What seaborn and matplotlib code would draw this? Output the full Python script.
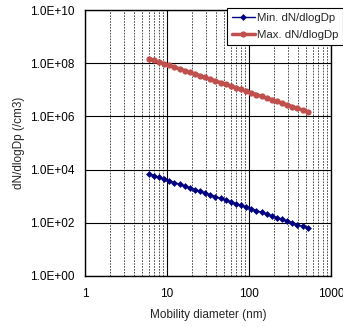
import numpy as np
import pandas as pd
import matplotlib
matplotlib.use("Agg")
import matplotlib.pyplot as plt
import seaborn as sns
from matplotlib.ticker import FixedLocator, FuncFormatter, LogLocator, NullFormatter

diameter_nm = [6.00, 6.93, 8.00, 9.24, 10.67, 12.32, 14.23, 16.43, 18.97, 21.91,
               25.30, 29.22, 33.74, 38.96, 44.99, 51.96, 60.0, 69.3, 80.0, 92.4,
               106.7, 123.2, 142.3, 164.3, 189.7, 219.1, 253.0, 292.2, 337.4,
               389.6, 449.9, 519.6]
min_dndlogdp = [7.00e3, 6.01e3, 5.17e3, 4.44e3, 3.81e3, 3.28e3, 2.82e3, 2.42e3,
                2.08e3, 1.79e3, 1.53e3, 1.32e3, 1.13e3, 9.73e2, 8.36e2, 7.18e2,
                6.17e2, 5.30e2, 4.55e2, 3.91e2, 3.36e2, 2.89e2, 2.48e2, 2.13e2,
                1.83e2, 1.57e2, 1.35e2, 1.16e2, 99.8, 85.7, 73.6, 63.3]
max_dndlogdp = [1.50e8, 1.29e8, 1.12e8, 9.62e7, 8.29e7, 7.15e7, 6.16e7, 5.31e7,
                4.58e7, 3.95e7, 3.40e7, 2.93e7, 2.53e7, 2.18e7, 1.88e7, 1.62e7,
                1.40e7, 1.20e7, 1.04e7, 8.94e6, 7.71e6, 6.64e6, 5.73e6, 4.94e6,
                4.26e6, 3.67e6, 3.16e6, 2.73e6, 2.35e6, 2.03e6, 1.75e6, 1.51e6]
series_names = ["Min. dN/dlogDp", "Max. dN/dlogDp"]
x_ticks = [1, 10, 100, 1000]
y_ticks = [1e0, 1e2, 1e4, 1e6, 1e8, 1e10]

sns.set_style("white")
plt.rcParams["font.family"] = ["Liberation Sans", "DejaVu Sans"]

fig = plt.figure(figsize=(3.43, 3.27), dpi=100)
ax = fig.add_axes([0.248, 0.156, 0.717, 0.813])

df_min = pd.DataFrame({"Dp": diameter_nm, "v": min_dndlogdp})
df_max = pd.DataFrame({"Dp": diameter_nm, "v": max_dndlogdp})

ax.set_xscale("log")
ax.set_yscale("log")

sns.lineplot(data=df_min, x="Dp", y="v", ax=ax, color="#000080", lw=1.0,
             marker="D", markersize=3.5, markeredgewidth=0, label=series_names[0])
sns.lineplot(data=df_max, x="Dp", y="v", ax=ax, color="#C0504D", lw=2.5,
             marker="o", markersize=4.5, markeredgewidth=0, label=series_names[1])

ax.set_xlim(1, 1000)
ax.set_ylim(1, 1e10)
ax.xaxis.set_major_locator(FixedLocator(x_ticks))
ax.xaxis.set_major_formatter(FuncFormatter(lambda v, p: f"{v:g}"))
ax.xaxis.set_minor_locator(LogLocator(base=10, subs=np.arange(2, 10)))
ax.xaxis.set_minor_formatter(NullFormatter())
ax.yaxis.set_major_locator(FixedLocator(y_ticks))
ax.yaxis.set_minor_locator(FixedLocator([]))
ax.yaxis.set_major_formatter(FuncFormatter(lambda v, p: "1.0E+%02d" % int(round(np.log10(v)))))

ax.grid(True, which="major", axis="both", color="black", lw=0.8, ls="-")
ax.grid(True, which="minor", axis="x", color="#333333", lw=0.6, ls=(0, (2, 1.5)))
ax.set_axisbelow(True)
for s in ax.spines.values():
    s.set_color("black")
    s.set_linewidth(1.0)
ax.tick_params(axis="x", which="both", length=0, labelsize=8.5, colors="black", pad=9)
ax.tick_params(axis="y", which="both", length=0, labelsize=8.5, colors="black", pad=7.5)

ax.set_xlabel("Mobility diameter (nm)", fontsize=8.5, labelpad=6)
ax.set_ylabel("dN/dlogDp (/cm3)", fontsize=8.5, labelpad=3.5)

leg = ax.legend(loc="upper right", bbox_to_anchor=(1.049, 1.0075), fontsize=8.2,
                frameon=True, fancybox=False, edgecolor="black", framealpha=1,
                borderpad=0.45, handlelength=2.0, handletextpad=0.15,
                labelspacing=0.55, borderaxespad=0.0)
leg.get_frame().set_linewidth(0.8)

fig.savefig("out.png", dpi=100)
